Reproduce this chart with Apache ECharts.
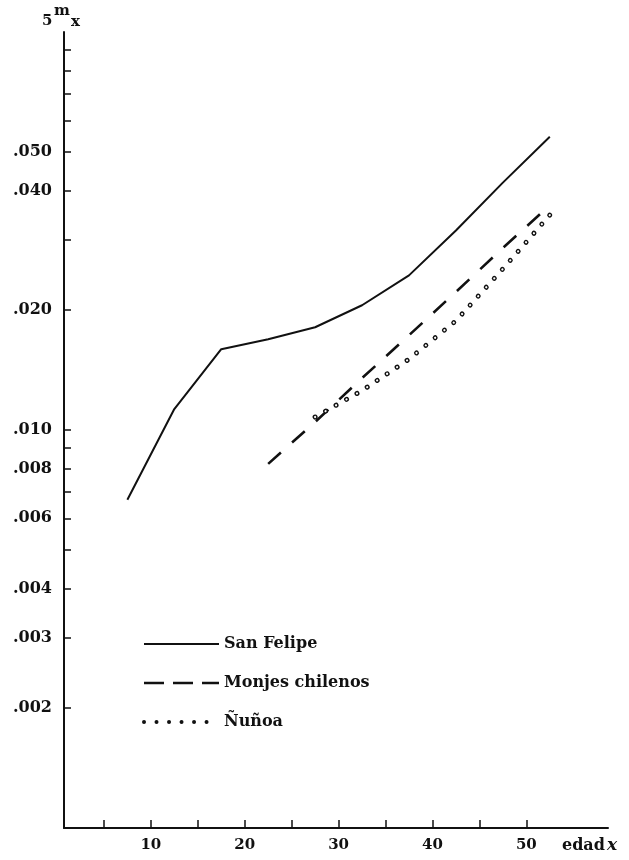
<!DOCTYPE html>
<html>
<head>
<meta charset="utf-8">
<script src="https://cdn.jsdelivr.net/npm/echarts@6/dist/echarts.min.js"></script>
<style>html,body{margin:0;padding:0;background:#fff}#c{width:629px;height:860px}</style>
</head>
<body>
<div id="c"></div>
<script>
// ---- data ----
const sanFelipeAges = [7.5, 12.5, 17.5, 22.5, 27.5, 32.5, 37.5, 42.5, 47.5, 52.5];
const sanFelipe     = [0.00668, 0.01129, 0.01596, 0.01690, 0.01812, 0.02058, 0.02446, 0.03172, 0.04183, 0.05453];
const monjesAges    = [22.5, 27.5, 32.5, 37.5, 42.5, 47.5, 52.5];
const monjes        = [0.00822, 0.01047, 0.01350, 0.01730, 0.02223, 0.02867, 0.03670];
const nunoaAges     = [27.5, 32.5, 37.5, 42.5, 47.5, 52.5];
const nunoa         = [0.01078, 0.01256, 0.01507, 0.01881, 0.02540, 0.03468];

const xTickValues  = [5, 10, 15, 20, 25, 30, 35, 40, 45, 50];
const xLabelValues = [10, 20, 30, 40, 50];
const yTickValues  = [0.002, 0.003, 0.004, 0.005, 0.006, 0.007, 0.008, 0.009,
                      0.01, 0.02, 0.03, 0.04, 0.05, 0.06, 0.07, 0.08, 0.09];
const yLabelValues = [0.002, 0.003, 0.004, 0.006, 0.008, 0.01, 0.02, 0.04, 0.05];

const seriesNames = ['San Felipe', 'Monjes chilenos', 'Ñuñoa'];

// ---- build ----
const pairs = (xs, ys) => xs.map((x, i) => [x, ys[i]]);
const FONT = 'DejaVu Serif';
const txt = { fontFamily: FONT, fontWeight: 'bold', fontSize: 16, color: '#111' };

const solidStyle  = { color: '#111', width: 2 };
const dashedStyle = { color: '#111', width: 2.6, type: [17, 15] };
const dotOuter    = { color: '#111', width: 5, type: [0.01, 12], cap: 'round' };
const dotInner    = { color: '#fff', width: 2.2, type: [0.01, 12], cap: 'round' };

const chart = echarts.init(document.getElementById('c'), null, { renderer: 'canvas' });
chart.setOption({
  animation: false,
  backgroundColor: '#fff',
  grid: { left: 64, right: 21, top: 32, bottom: 32 },
  xAxis: {
    type: 'value', min: 0.75, max: 58.7,
    axisLine: { lineStyle: { color: '#111', width: 2 } },
    axisTick: { inside: true, length: 8, customValues: xTickValues, lineStyle: { color: '#111', width: 1.5 } },
    axisLabel: { customValues: xLabelValues, margin: 10, ...txt, fontSize: 15 },
    splitLine: { show: false }
  },
  yAxis: {
    type: 'log', logBase: 10, min: 0.001, max: 0.1,
    axisLine: { lineStyle: { color: '#111', width: 2 } },
    axisTick: { inside: true, length: 7, customValues: yTickValues, lineStyle: { color: '#111', width: 1.5 } },
    axisLabel: {
      customValues: yLabelValues, margin: 12, ...txt,
      formatter: v => Number(v).toFixed(3).replace(/^0/, '')
    },
    splitLine: { show: false }
  },
  legend: {
    data: [
      { name: seriesNames[0], lineStyle: solidStyle },
      { name: seriesNames[1], lineStyle: { ...dashedStyle, type: [20, 9] } },
      { name: seriesNames[2], lineStyle: { color: '#111', width: 4, type: [0.01, 12.5], cap: 'round' } }
    ],
    orient: 'vertical', left: 142, top: 636, padding: 0,
    itemWidth: 75, itemHeight: 14, itemGap: 23,
    itemStyle: { opacity: 0 },
    textStyle: { ...txt }
  },
  graphic: [
    { type: 'text', left: 42, top: 14, style: { text: '5', font: 'bold 15px "DejaVu Serif"', fill: '#111' } },
    { type: 'text', left: 54, top: 4, style: { text: 'm', font: 'bold 15px "DejaVu Serif"', fill: '#111' } },
    { type: 'text', left: 71, top: 15, style: { text: 'x', font: 'bold 15px "DejaVu Serif"', fill: '#111' } },
    { type: 'text', left: 562, top: 838, style: { text: 'edad', font: 'bold 16px "DejaVu Serif"', fill: '#111' } },
    { type: 'text', left: 607, top: 837, style: { text: 'x', font: 'italic bold 17px "DejaVu Serif"', fill: '#111' } }
  ],
  series: [
    { name: seriesNames[0], type: 'line', symbol: 'none', data: pairs(sanFelipeAges, sanFelipe), lineStyle: solidStyle },
    { name: seriesNames[1], type: 'line', symbol: 'none', data: pairs(monjesAges, monjes), lineStyle: dashedStyle },
    { name: seriesNames[2], type: 'line', symbol: 'none', data: pairs(nunoaAges, nunoa), z: 3, lineStyle: dotOuter },
    { name: seriesNames[2], type: 'line', symbol: 'none', data: pairs(nunoaAges, nunoa), z: 4, lineStyle: dotInner }
  ]
});
</script>
</body>
</html>
